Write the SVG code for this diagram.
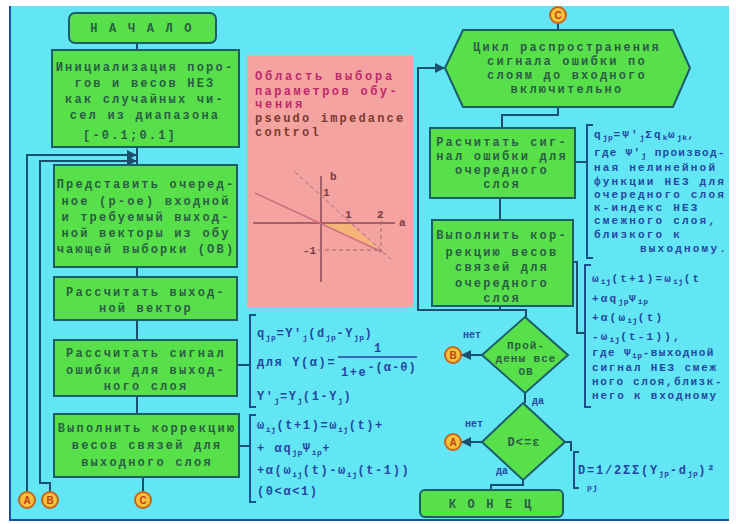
<svg xmlns="http://www.w3.org/2000/svg" width="736" height="524" viewBox="0 0 736 524">
<style>
.box{fill:#58e04a;stroke:#1b5d6b;stroke-width:2}
.t{font-family:"Liberation Mono","DejaVu Sans Mono",monospace;font-size:12px;fill:#2a5e44;letter-spacing:2.2px;text-anchor:middle;font-weight:bold}
.f{font-family:"Liberation Mono","DejaVu Sans Mono",monospace;font-size:12px;fill:#2446a0;letter-spacing:1.6px;font-weight:bold}
.fr{font-family:"Liberation Mono","DejaVu Sans Mono",monospace;font-size:11px;fill:#2446a0;letter-spacing:2.2px;font-weight:bold}
.sb{font-size:8px;letter-spacing:0.5px}
.pk{font-family:"Liberation Mono","DejaVu Sans Mono",monospace;font-size:12px;letter-spacing:2.8px;font-weight:bold}
.lbl{font-family:"Liberation Mono","DejaVu Sans Mono",monospace;font-size:10px;fill:#2446a0;font-weight:bold}
.c{fill:#f7c23a;stroke:#c8641a;stroke-width:2}
.ct{font-family:"Liberation Sans",Arial,sans-serif;font-size:10px;font-weight:bold;fill:#c0401a;text-anchor:middle}
.ln{fill:none;stroke:#1a4f6e;stroke-width:2}
.br{fill:none;stroke:#1a4f8e;stroke-width:2}
</style>
<defs>
<marker id="ah" viewBox="0 0 10 10" refX="9" refY="5" markerWidth="5" markerHeight="5" orient="auto">
<path d="M0,0 L10,5 L0,10 z" fill="#1a4f6e"/>
</marker>
</defs>
<rect x="0" y="0" width="736" height="524" fill="#ffffff"/>
<rect x="9" y="6" width="720" height="515" fill="#62e6f4"/>
<path d="M10,6 V520 H729" fill="none" stroke="#1c4f9a" stroke-width="2"/>

<g id="connectors">
<path class="ln" d="M137,43 V50"/>
<path class="ln" d="M137,147 V165"/>
<path class="ln" d="M137,267 V277"/>
<path class="ln" d="M137,320 V340"/>
<path class="ln" d="M137,396 V414"/>
<path class="ln" d="M143,477 V492"/>
<path class="ln" d="M27,492 V155 H136" marker-end="url(#ah)"/>
<path class="ln" d="M50,492 V483 H40 V161 H136" marker-end="url(#ah)"/>
<path class="ln" d="M237,365 H250"/>
<path class="ln" d="M239,446 H250"/>
<path class="ln" d="M558,23 V30"/>
<path class="ln" d="M558,107 V115 H502 V128"/>
<path class="ln" d="M500,198 V220"/>
<path class="ln" d="M575,162 H587"/>
<path class="ln" d="M573,262 H577 V333 H585"/>
<path class="ln" d="M500,306 V310 H526 V317"/>
<path class="ln" d="M526,310 H418 V68 H444" marker-end="url(#ah)"/>
<path class="ln" d="M482,355 H462" marker-end="url(#ah)"/>
<path class="ln" d="M525,393 V403"/>
<path class="ln" d="M482,442 H462" marker-end="url(#ah)"/>
<path class="ln" d="M565,442 H571 V451"/>
<path class="ln" d="M523,480 V485 H491 V490"/>
</g>

<g id="start">
<rect class="box" x="69" y="13" width="147" height="30" rx="6"/>
<text class="t" x="142" y="32">Н А Ч А Л О</text>
</g>

<g id="init">
<rect class="box" x="52" y="50" width="187" height="97"/>
<text class="t" x="145" y="71">Инициализация поро-</text>
<text class="t" x="145" y="87">гов и весов НЕЗ</text>
<text class="t" x="145" y="103">как случайных чи-</text>
<text class="t" x="145" y="119">сел из диапазона</text>
<text class="t" x="130" y="139">[-0.1;0.1]</text>
</g>

<g id="present">
<rect class="box" x="54" y="165" width="183" height="102"/>
<text class="t" x="146" y="188">Представить очеред-</text>
<text class="t" x="146" y="205">ное (p-ое) входной</text>
<text class="t" x="146" y="221">и требуемый выход-</text>
<text class="t" x="146" y="237">ной векторы из обу</text>
<text class="t" x="146" y="253">чающей выборки (OB)</text>
</g>

<g id="calcout">
<rect class="box" x="54" y="277" width="183" height="43"/>
<text class="t" x="146" y="296">Рассчитать выход-</text>
<text class="t" x="146" y="312">ной вектор</text>
</g>

<g id="calcerr">
<rect class="box" x="54" y="340" width="183" height="56"/>
<text class="t" x="146" y="357">Рассчитать сигнал</text>
<text class="t" x="146" y="374">ошибки для выход-</text>
<text class="t" x="146" y="390">ного слоя</text>
</g>

<g id="correct">
<rect class="box" x="54" y="414" width="185" height="63"/>
<text class="t" x="147" y="432">Выполнить коррекцию</text>
<text class="t" x="147" y="449">весов связей для</text>
<text class="t" x="147" y="466">выходного слоя</text>
</g>

<g id="connA"><circle class="c" cx="27" cy="500" r="8"/><text class="ct" x="27" y="504">A</text></g>
<g id="connB"><circle class="c" cx="50" cy="500" r="8"/><text class="ct" x="50" y="504">B</text></g>
<g id="connC"><circle class="c" cx="143" cy="500" r="8"/><text class="ct" x="143" y="504">C</text></g>

<g id="params">
<rect x="247" y="55" width="166" height="252" fill="#f5a3a0"/>
<text class="pk" x="255" y="80" fill="#c0286a">Область выбора</text>
<text class="pk" x="255" y="95" fill="#c0286a" style="letter-spacing:2.4px">параметров обу-</text>
<text class="pk" x="255" y="108" fill="#c0286a">чения</text>
<text class="pk" x="255" y="122" fill="#7a3a30" style="letter-spacing:2.2px">pseudo impedance</text>
<text class="pk" x="255" y="136" fill="#7a3a30" style="letter-spacing:2.2px">control</text>
<polygon points="321,223 349,223 380,250" fill="#f5b870" opacity="0.85"/>
<line x1="321" y1="176" x2="321" y2="282" stroke="#8a4a58" stroke-width="1.5"/>
<line x1="253" y1="223" x2="395" y2="223" stroke="#8a4a58" stroke-width="1.5"/>
<line x1="295" y1="172" x2="393" y2="261" stroke="#c0808a" stroke-width="1.2" stroke-dasharray="4,3"/>
<line x1="255" y1="193" x2="382" y2="252" stroke="#d07080" stroke-width="1.5"/>
<line x1="318" y1="250" x2="381" y2="250" stroke="#9a6a6a" stroke-width="1" stroke-dasharray="4,3"/>
<line x1="381" y1="214" x2="381" y2="252" stroke="#9a6a6a" stroke-width="1" stroke-dasharray="4,3"/>
<text x="330" y="180" font-family="Liberation Mono,monospace" font-size="11" font-weight="bold" fill="#7a3a40">b</text>
<text x="323" y="196" font-family="Liberation Mono,monospace" font-size="11" font-weight="bold" fill="#7a3a40">1</text>
<text x="345" y="218" font-family="Liberation Mono,monospace" font-size="11" font-weight="bold" fill="#7a3a40">1</text>
<text x="377" y="218" font-family="Liberation Mono,monospace" font-size="11" font-weight="bold" fill="#7a3a40">2</text>
<text x="399" y="226" font-family="Liberation Mono,monospace" font-size="11" font-weight="bold" fill="#7a3a40">a</text>
<text x="303" y="254" font-family="Liberation Mono,monospace" font-size="11" font-weight="bold" fill="#7a3a40">-1</text>
</g>

<g id="formula-out">
<path class="br" d="M256,315 H250 V407 H256"/>
<text class="f" x="257" y="337">q<tspan class="sb" dy="3">jp</tspan><tspan dy="-3">=Y'</tspan><tspan class="sb" dy="3">j</tspan><tspan dy="-3">(d</tspan><tspan class="sb" dy="3">jp</tspan><tspan dy="-3">-Y</tspan><tspan class="sb" dy="3">jp</tspan><tspan dy="-3">)</tspan></text>
<text class="f" x="257" y="366">для Y(α)=</text>
<text class="f" x="374" y="352">1</text>
<line x1="338" y1="357" x2="417" y2="357" stroke="#2446a0" stroke-width="1.5"/>
<text class="f" x="341" y="376">1+e<tspan dy="-5" style="letter-spacing:1px">-(α-θ)</tspan></text>
<text class="f" x="257" y="400">Y'<tspan class="sb" dy="3">j</tspan><tspan dy="-3">=Y</tspan><tspan class="sb" dy="3">j</tspan><tspan dy="-3">(1-Y</tspan><tspan class="sb" dy="3">j</tspan><tspan dy="-3">)</tspan></text>
</g>

<g id="formula-corr">
<path class="br" d="M256,415 H250 V502 H256"/>
<text class="f" x="257" y="429">ω<tspan class="sb" dy="3">ij</tspan><tspan dy="-3">(t+1)=ω</tspan><tspan class="sb" dy="3">ij</tspan><tspan dy="-3">(t)+</tspan></text>
<text class="f" x="257" y="452">+ αq<tspan class="sb" dy="3">jp</tspan><tspan dy="-3">Ψ</tspan><tspan class="sb" dy="3">ip</tspan><tspan dy="-3">+</tspan></text>
<text class="f" x="257" y="474">+α(ω<tspan class="sb" dy="3">ij</tspan><tspan dy="-3">(t)-ω</tspan><tspan class="sb" dy="3">ij</tspan><tspan dy="-3">(t-1))</tspan></text>
<text class="f" x="257" y="495">(0&lt;α&lt;1)</text>
</g>

<g id="connC2"><circle class="c" cx="558" cy="15" r="8"/><text class="ct" x="558" y="19">C</text></g>

<g id="loop">
<polygon class="box" points="445,68 463,30 673,30 690,68 673,107 463,107"/>
<text class="t" x="567" y="51">Цикл распространения</text>
<text class="t" x="567" y="65">сигнала ошибки по</text>
<text class="t" x="567" y="79">слоям до входного</text>
<text class="t" x="567" y="93">включительно</text>
</g>

<g id="calchid">
<rect class="box" x="430" y="128" width="145" height="70"/>
<text class="t" x="502" y="146">Расчитать сиг-</text>
<text class="t" x="502" y="160">нал ошибки для</text>
<text class="t" x="502" y="174">очередного</text>
<text class="t" x="502" y="188">слоя</text>
</g>

<g id="corrhid">
<rect class="box" x="432" y="220" width="141" height="86"/>
<text class="t" x="502" y="239">Выполнить кор-</text>
<text class="t" x="502" y="256">рекцию весов</text>
<text class="t" x="502" y="271">связей для</text>
<text class="t" x="502" y="287">очередного</text>
<text class="t" x="502" y="302">слоя</text>
</g>

<g id="formula-hid">
<path class="br" d="M593,125 H587 V258 H593"/>
<text class="fr" x="594" y="138">q<tspan class="sb" dy="2">jp</tspan><tspan dy="-2">=Ψ'</tspan><tspan class="sb" dy="2">j</tspan><tspan dy="-2">Σq</tspan><tspan class="sb" dy="2">k</tspan><tspan dy="-2">ω</tspan><tspan class="sb" dy="2">jk</tspan><tspan dy="-2">,</tspan></text>
<text class="fr" x="594" y="156" style="letter-spacing:1.3px">где Ψ'<tspan class="sb" dy="2">j</tspan><tspan dy="-2"> производ-</tspan></text>
<text class="fr" x="594" y="171">ная нелинейной</text>
<text class="fr" x="594" y="185">функции НЕЗ для</text>
<text class="fr" x="594" y="198">очередного слоя</text>
<text class="fr" x="594" y="211">к-индекс НЕЗ</text>
<text class="fr" x="594" y="224">смежного слоя,</text>
<text class="fr" x="594" y="238">близкого к</text>
<text class="fr" x="640" y="252">выходному.</text>
</g>

<g id="formula-hidcorr">
<path class="br" d="M591,265 H585 V407 H591"/>
<text class="fr" x="592" y="282">ω<tspan class="sb" dy="2">ij</tspan><tspan dy="-2">(t+1)=ω</tspan><tspan class="sb" dy="2">ij</tspan><tspan dy="-2">(t</tspan></text>
<text class="fr" x="592" y="302">+αq<tspan class="sb" dy="2">jp</tspan><tspan dy="-2">Ψ</tspan><tspan class="sb" dy="2">ip</tspan></text>
<text class="fr" x="592" y="321">+α(ω<tspan class="sb" dy="2">ij</tspan><tspan dy="-2">(t)</tspan></text>
<text class="fr" x="592" y="340"> -ω<tspan class="sb" dy="2">ij</tspan><tspan dy="-2">(t-1)),</tspan></text>
<text class="fr" x="592" y="356" style="letter-spacing:1.4px">где Ψ<tspan class="sb" dy="2">ip</tspan><tspan dy="-2">-выходной</tspan></text>
<text class="fr" x="592" y="371" style="letter-spacing:1.8px">сигнал НЕЗ смеж</text>
<text class="fr" x="592" y="385" style="letter-spacing:1.6px">ного слоя,близк-</text>
<text class="fr" x="592" y="399" style="letter-spacing:1.8px">него к входному</text>
</g>

<g id="allob">
<polygon class="box" points="525,317 568,355 525,393 482,355"/>
<text class="t" x="526" y="349" style="letter-spacing:1px;font-size:11px">Прой-</text>
<text class="t" x="526" y="362" style="letter-spacing:1px;font-size:11px">дены все</text>
<text class="t" x="526" y="375" style="letter-spacing:1px;font-size:11px">OB</text>
<text class="lbl" x="463" y="338">нет</text>
<text class="lbl" x="532" y="404">да</text>
</g>
<g id="connB2"><circle class="c" cx="453" cy="355" r="8"/><text class="ct" x="453" y="359">B</text></g>

<g id="errcheck">
<polygon class="box" points="523,403 565,442 523,480 482,442"/>
<text class="t" x="524" y="446" style="letter-spacing:1px">D&lt;=ε</text>
<text class="lbl" x="465" y="427">нет</text>
<text class="lbl" x="496" y="474">да</text>
</g>
<g id="connA2"><circle class="c" cx="453" cy="442" r="8"/><text class="ct" x="453" y="446">A</text></g>

<g id="formula-d">
<path class="br" d="M579,452 H574 V488 H579"/>
<text class="fr" x="578" y="474" style="font-size:12px;letter-spacing:1.8px">D=1/2ΣΣ(Y<tspan class="sb" dy="2">jp</tspan><tspan dy="-2">-d</tspan><tspan class="sb" dy="2">jp</tspan><tspan dy="-2">)²</tspan></text>
<text class="fr" x="587" y="490" style="font-size:8px;letter-spacing:1px">pj</text>
</g>

<g id="end">
<rect class="box" x="420" y="490" width="143" height="27" rx="5"/>
<text class="t" x="491" y="508">К О Н Е Ц</text>
</g>
</svg>
